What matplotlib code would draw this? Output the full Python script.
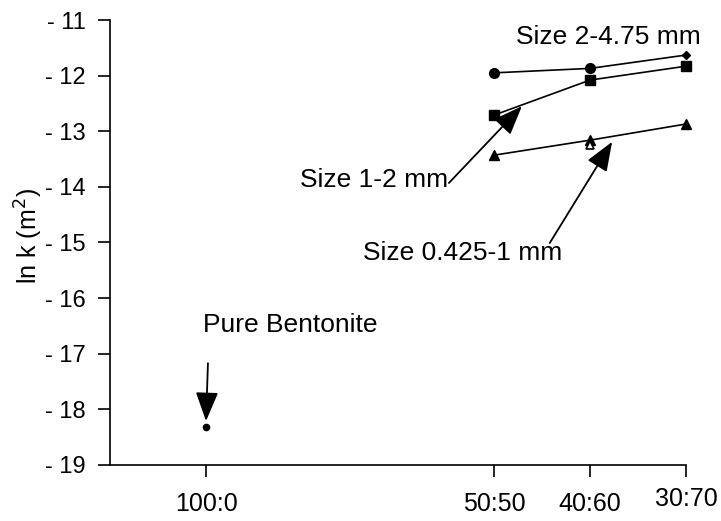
import numpy as np
import matplotlib
matplotlib.use('Agg')
import matplotlib.pyplot as plt

plt.rcParams['font.family'] = ['Liberation Sans', 'DejaVu Sans']

# x categories (bentonite : sand ratio), placed on an index axis
ratio_labels = ['100:0', '50:50', '40:60', '30:70']
ratio_pos = [0, 3, 4, 5]

# ln k values
size_2_475 = [-11.95, -11.87, -11.63]     # 50:50, 40:60, 30:70
size_1_2 = [-12.71, -12.08, -11.83]
size_0425_1 = [-13.43, -13.16, -12.87]
size_0425_1_extra = -13.25                # open triangle at 40:60
bentonite = -18.32

yticks = [-11, -12, -13, -14, -15, -16, -17, -18, -19]
ytick_labels = ['- 11', '- 12', '- 13', '- 14', '- 15', '- 16', '- 17', '- 18', '- 19']

fig = plt.figure(figsize=(7.21, 5.21), dpi=100)
ax = fig.add_axes([0.1526, 0.1075, 0.7989, 0.8541])

xs = ratio_pos[1:]
lw = 1.2
# top series: circles, last point a small diamond
ax.plot(xs, size_2_475, color='black', lw=lw, clip_on=False)
ax.plot(xs[:2], size_2_475[:2], 'o', color='black', ms=7, clip_on=False)
ax.plot(xs[2:], size_2_475[2:], 'D', color='black', ms=4.5, clip_on=False)
# squares
ax.plot(xs, size_1_2, 's', color='black', lw=lw, ms=6.5, ls='-', clip_on=False)
# triangles
ax.plot(xs, size_0425_1, '^', color='black', lw=lw, ms=6.5, ls='-', clip_on=False)
ax.plot(xs[1], size_0425_1_extra, '^', mfc='white', mec='black', mew=1.2, ms=6)
# pure bentonite
ax.plot(ratio_pos[0], bentonite, 'o', color='black', ms=4.5)

arrow = dict(arrowstyle='-|>,head_length=0.9,head_width=0.35', color='black',
             lw=1.3, mutation_scale=20, shrinkA=0, shrinkB=0)
fs = 19
ax.text(3.23, -11.31, 'Size 2-4.75 mm', fontsize=fs, ha='left', va='center')
ax.text(0.98, -13.88, 'Size 1-2 mm', fontsize=fs, ha='left', va='center')
ax.annotate('', xy=(3.29, -12.55), xytext=(2.53, -13.93), arrowprops=arrow)
ax.text(1.64, -15.19, 'Size 0.425-1 mm', fontsize=fs, ha='left', va='center')
ax.annotate('', xy=(4.23, -13.19), xytext=(3.58, -15.01), arrowprops=arrow)
ax.text(-0.03, -16.49, 'Pure Bentonite', fontsize=fs, ha='left', va='center')
ax.annotate('', xy=(0.0, -18.21), xytext=(0.02, -17.17), arrowprops=arrow)

ax.set_xlim(-1, 5)
ax.set_ylim(-19, -11)
ax.set_xticks(ratio_pos)
ax.set_xticklabels(ratio_labels, fontsize=18)
ax.set_yticks(yticks)
ax.set_yticklabels(ytick_labels, fontsize=17)
ax.tick_params(axis='both', direction='out', length=8.5, width=1.2, colors='black')
ax.tick_params(axis='x', pad=11)
ax.tick_params(axis='y', pad=9)
ax.xaxis.get_major_ticks()[3].set_pad(7)
ax.set_ylabel('ln k (m$^2$)', fontsize=18)
ax.yaxis.set_label_coords(-0.113, 0.515)
for side in ['top', 'right']:
    ax.spines[side].set_visible(False)
for side in ['left', 'bottom']:
    ax.spines[side].set_linewidth(1.2)

fig.savefig('out.png', dpi=100)
